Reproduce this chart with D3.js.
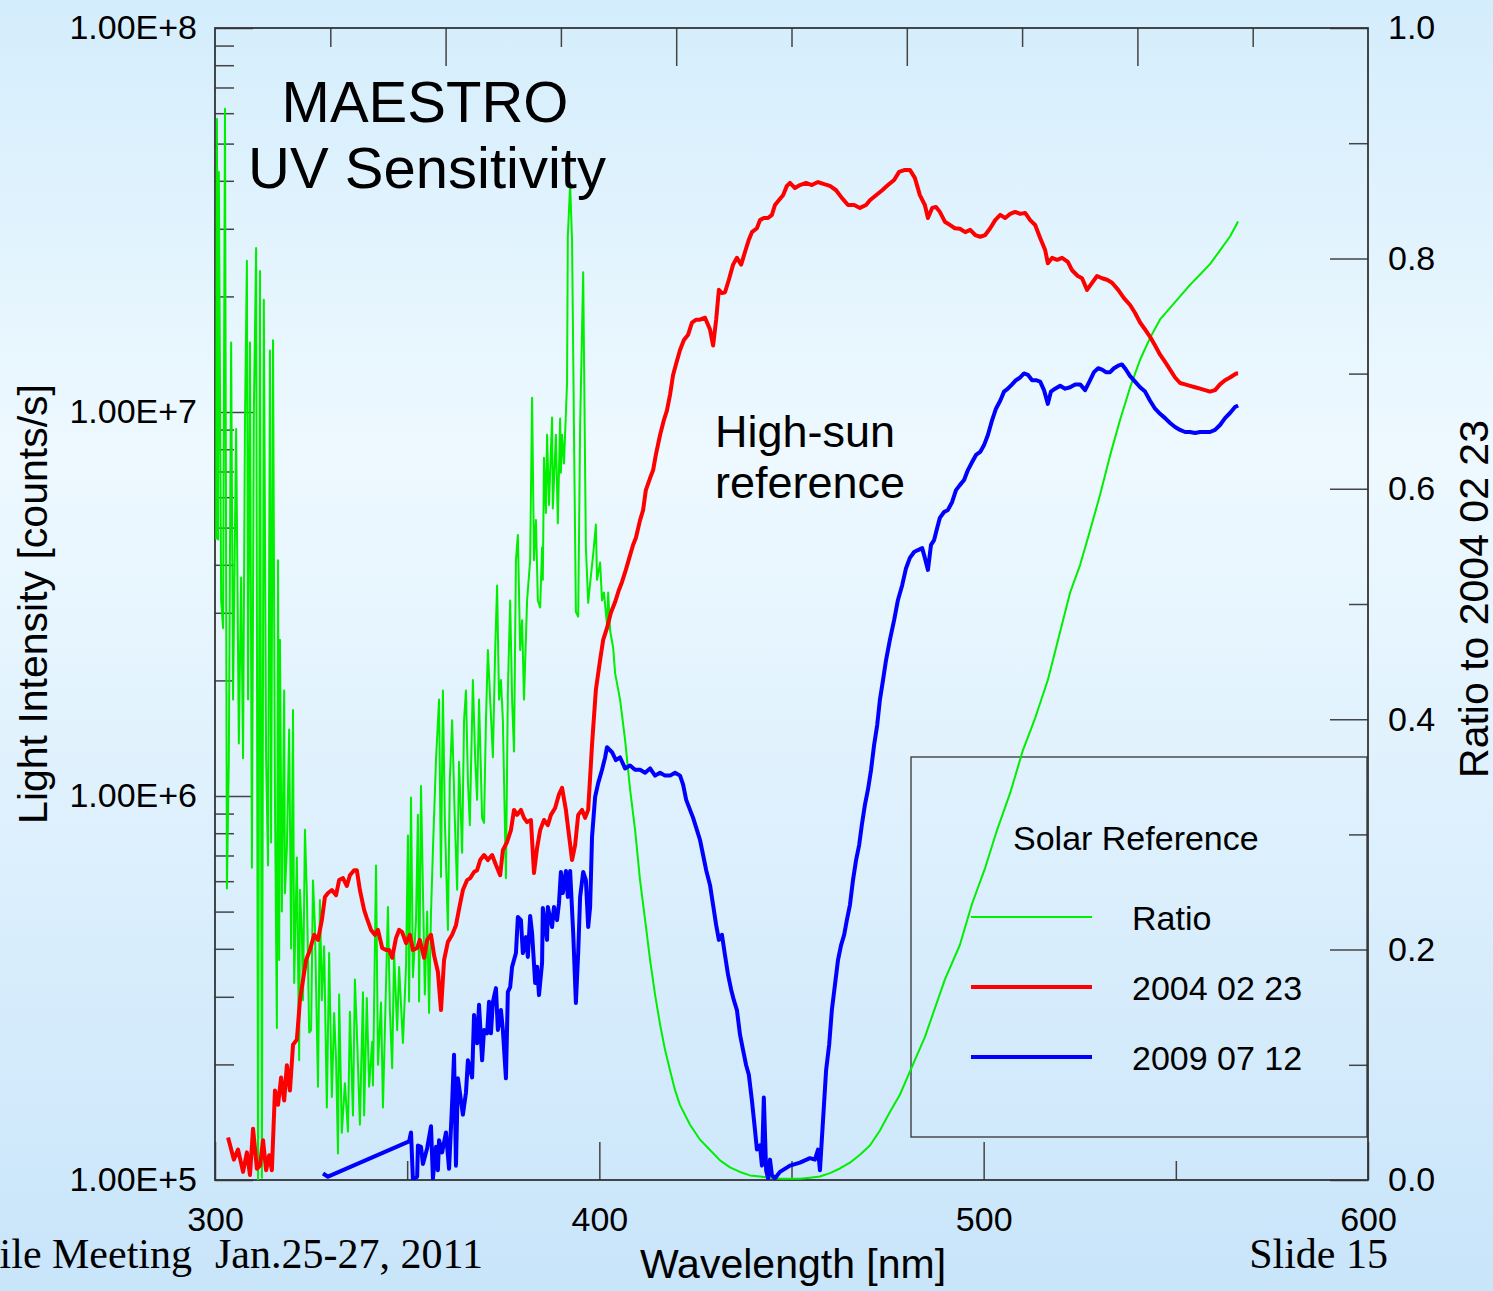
<!DOCTYPE html>
<html>
<head>
<meta charset="utf-8">
<script src="https://cdn.jsdelivr.net/npm/d3@7"></script>
<style>
  html, body { margin: 0; padding: 0; }
  body { width: 1493px; height: 1291px; overflow: hidden; }
  svg { display: block; font-family: "Liberation Sans", Arial, Helvetica, sans-serif; }
</style>
</head>
<body>
<div id="chart"></div>
<script>
// [wavelength nm, counts/s]
const ref2004 = [
  [303.4,1.29e5],[304.9,1.13e5],[306.0,1.20e5],[307.3,1.05e5],[308.3,1.18e5],[309.1,1.03e5],[309.9,1.36e5],
  [310.9,1.07e5],[311.7,1.09e5],[312.5,1.27e5],[313.3,1.06e5],[314.1,1.16e5],[314.8,1.06e5],[315.6,1.71e5],
  [316.4,1.57e5],[317.2,1.85e5],[318.0,1.61e5],[318.7,1.99e5],[319.5,1.71e5],[320.3,2.25e5],[321.3,2.32e5],
  [322.1,2.94e5],[322.9,3.32e5],[323.7,3.74e5],[324.7,3.97e5],[325.8,4.35e5],[326.8,4.22e5],[327.8,4.75e5],
  [328.6,5.46e5],[329.4,5.59e5],[330.4,5.69e5],[331.5,5.52e5],[332.3,6.04e5],[333.3,6.11e5],[334.3,5.83e5],
  [335.1,6.22e5],[336.2,6.41e5],[336.9,6.41e5],[337.7,5.69e5],[338.8,5.05e5],[339.5,4.81e5],[340.6,4.48e5],
  [341.6,4.35e5],[342.4,4.48e5],[343.5,4.02e5],[344.5,3.97e5],[345.3,3.97e5],[346.1,3.79e5],[347.1,4.27e5],
  [347.9,4.48e5],[348.7,4.42e5],[349.7,4.14e5],[350.7,4.35e5],[351.5,3.97e5],[352.6,4.02e5],[353.3,4.22e5],
  [354.4,3.79e5],[355.2,4.22e5],[356.2,4.35e5],[357.0,3.85e5],[358.0,3.48e5],[358.8,2.77e5],[359.6,3.74e5],
  [360.6,4.17e5],[361.7,4.35e5],[362.7,4.61e5],[363.7,5.20e5],[364.5,5.69e5],[365.6,6.04e5],[366.4,6.11e5],
  [367.4,6.34e5],[368.2,6.41e5],[369.0,6.81e5],[370.0,7.02e5],[371.0,6.81e5],[372.1,7.02e5],[373.1,6.61e5],
  [374.2,6.22e5],[374.9,7.23e5],[376.0,7.59e5],[377.0,8.15e5],[377.8,9.20e5],[378.6,8.93e5],[379.6,9.20e5],
  [380.4,8.77e5],[381.2,8.55e5],[382.2,8.66e5],[383.0,6.30e5],[383.8,7.32e5],[384.6,8.15e5],[385.6,8.66e5],
  [386.6,8.40e5],[387.4,8.93e5],[388.5,9.31e5],[389.5,1.01e6],[390.3,1.05e6],[391.3,9.20e5],[392.1,7.91e5],
  [392.9,6.81e5],[393.7,7.45e5],[394.5,8.93e5],[395.5,9.20e5],[396.3,8.77e5],[397.1,9.20e5],[398.1,1.36e6],
  [399.1,1.89e6],[400.2,2.26e6],[401.0,2.55e6],[402.0,2.74e6],[403.0,3.00e6],[404.1,3.20e6],[405.1,3.44e6],
  [405.9,3.61e6],[406.9,3.88e6],[408.0,4.24e6],[408.8,4.51e6],[409.5,4.70e6],[410.6,5.23e6],[411.4,5.56e6],
  [412.1,6.26e6],[413.2,6.73e6],[414.0,7.06e6],[414.7,7.73e6],[415.8,8.71e6],[416.8,9.53e6],[417.6,1.01e7],
  [418.4,1.11e7],[419.2,1.25e7],[420.2,1.36e7],[421.0,1.45e7],[422.0,1.54e7],[423.1,1.59e7],[424.1,1.71e7],
  [425.2,1.74e7],[426.2,1.74e7],[427.5,1.76e7],[428.8,1.64e7],[429.6,1.49e7],[430.4,1.74e7],[431.1,2.08e7],
  [431.9,2.04e7],[432.7,2.05e7],[433.7,2.21e7],[434.8,2.42e7],[435.8,2.52e7],[436.9,2.42e7],[437.9,2.61e7],
  [438.9,2.81e7],[439.7,2.94e7],[441.0,3.01e7],[441.8,3.16e7],[442.8,3.20e7],[443.9,3.20e7],[444.9,3.26e7],
  [445.7,3.46e7],[446.7,3.56e7],[447.8,3.67e7],[448.8,3.88e7],[449.6,3.95e7],[450.9,3.83e7],[452.2,3.90e7],
  [453.8,3.95e7],[455.3,3.90e7],[456.9,3.97e7],[458.5,3.92e7],[460.0,3.88e7],[461.6,3.78e7],[463.1,3.61e7],
  [464.7,3.46e7],[466.3,3.46e7],[467.8,3.40e7],[469.4,3.46e7],[470.4,3.56e7],[472.0,3.67e7],[473.6,3.78e7],
  [475.1,3.90e7],[476.7,4.02e7],[478.0,4.22e7],[479.5,4.27e7],[480.8,4.27e7],[482.1,4.07e7],[483.4,3.67e7],
  [484.7,3.46e7],[485.5,3.20e7],[486.6,3.40e7],[487.6,3.42e7],[488.6,3.32e7],[489.9,3.13e7],[491.2,3.07e7],
  [492.5,3.01e7],[493.8,3.00e7],[495.2,2.94e7],[496.5,2.98e7],[497.8,2.89e7],[499.1,2.86e7],[500.4,2.89e7],
  [501.7,3.01e7],[503.0,3.16e7],[504.3,3.26e7],[505.6,3.20e7],[506.9,3.28e7],[508.2,3.32e7],[509.5,3.28e7],
  [510.8,3.30e7],[512.1,3.16e7],[513.4,3.07e7],[514.7,2.84e7],[516.0,2.64e7],[516.7,2.44e7],[517.8,2.52e7],
  [519.1,2.49e7],[520.4,2.52e7],[521.9,2.46e7],[523.0,2.34e7],[524.5,2.26e7],[525.6,2.23e7],[526.9,2.08e7],
  [528.2,2.17e7],[529.5,2.26e7],[530.8,2.23e7],[532.1,2.21e7],[533.4,2.17e7],[535.0,2.08e7],[536.5,1.98e7],
  [538.1,1.90e7],[539.4,1.81e7],[540.7,1.71e7],[542.0,1.64e7],[543.3,1.57e7],[544.6,1.49e7],[545.9,1.41e7],
  [547.2,1.35e7],[548.5,1.29e7],[549.8,1.23e7],[551.1,1.19e7],[552.4,1.18e7],[553.7,1.17e7],[555.0,1.16e7],
  [556.3,1.15e7],[557.6,1.14e7],[558.9,1.13e7],[560.2,1.14e7],[561.5,1.18e7],[562.8,1.21e7],[564.1,1.23e7],
  [565.7,1.26e7],[566.2,1.26e7]
];

const obs2009 = [
  [328.1,1.04e5],[329.4,1.02e5],[350.5,1.26e5],[351.0,1.33e5],[351.5,1.00e5],[352.6,1.02e5],[352.8,1.23e5],
  [353.6,1.22e5],[354.1,1.10e5],[355.2,1.21e5],[356.2,1.38e5],[356.7,1.01e5],[357.5,1.22e5],[358.0,1.06e5],
  [358.3,1.27e5],[359.1,1.18e5],[360.1,1.33e5],[360.9,1.07e5],[361.7,1.59e5],[362.2,2.12e5],[362.7,1.09e5],
  [363.2,1.84e5],[364.0,1.61e5],[364.5,1.48e5],[365.3,1.69e5],[365.8,2.05e5],[366.9,1.85e5],[367.4,2.69e5],
  [368.2,2.27e5],[368.7,2.86e5],[369.5,2.05e5],[370.0,2.46e5],[370.8,2.41e5],[371.3,2.91e5],[371.8,2.41e5],
  [372.3,2.91e5],[373.1,3.16e5],[373.6,2.46e5],[374.4,2.77e5],[374.9,2.46e5],[375.7,1.84e5],[376.2,3.09e5],
  [376.8,3.18e5],[377.3,3.59e5],[378.3,3.90e5],[378.8,4.84e5],[379.6,4.75e5],[380.1,3.90e5],[380.9,4.29e5],
  [381.4,3.81e5],[382.0,4.87e5],[382.5,4.40e5],[383.3,3.26e5],[383.8,3.59e5],[384.3,3.03e5],[385.1,3.67e5],
  [385.3,5.11e5],[386.4,4.22e5],[386.6,5.14e5],[387.7,4.56e5],[388.2,5.14e5],[389.0,4.75e5],[389.5,5.26e5],
  [390.0,6.34e5],[390.5,5.59e5],[391.3,6.38e5],[391.8,5.46e5],[392.4,6.38e5],[393.2,4.40e5],[393.9,2.89e5],
  [394.5,3.90e5],[395.0,5.46e5],[395.8,6.34e5],[396.5,6.04e5],[397.1,4.56e5],[397.6,5.14e5],[398.1,7.82e5],
  [398.9,9.94e5],[399.7,1.08e6],[400.7,1.17e6],[401.5,1.26e6],[402.0,1.34e6],[403.3,1.30e6],[404.3,1.24e6],
  [405.4,1.26e6],[406.7,1.18e6],[408.0,1.20e6],[409.3,1.17e6],[410.6,1.17e6],[411.9,1.15e6],[413.2,1.18e6],
  [414.5,1.13e6],[415.8,1.15e6],[417.1,1.13e6],[418.4,1.13e6],[419.7,1.15e6],[421.0,1.13e6],[421.8,1.07e6],
  [422.6,9.77e5],[423.6,9.20e5],[424.4,8.77e5],[425.4,8.15e5],[426.2,7.68e5],[427.0,7.02e5],[427.8,6.41e5],
  [428.8,5.86e5],[429.6,5.20e5],[430.4,4.61e5],[431.1,4.22e5],[431.9,4.35e5],[432.7,3.85e5],[433.5,3.42e5],
  [434.3,3.13e5],[435.0,2.94e5],[435.8,2.77e5],[436.6,2.39e5],[437.4,2.18e5],[438.2,1.99e5],[438.9,1.88e5],
  [439.7,1.61e5],[440.5,1.35e5],[441.0,1.20e5],[441.8,1.23e5],[442.3,1.09e5],[442.8,1.64e5],[443.4,1.06e5],
  [443.9,1.01e5],[444.4,1.13e5],[444.9,1.03e5],[445.7,1.01e5],[447.0,1.05e5],[449.6,1.09e5],[452.2,1.11e5],
  [454.8,1.14e5],[456.1,1.13e5],[456.9,1.20e5],[457.4,1.06e5],[458.2,1.43e5],[459.0,1.93e5],[459.8,2.25e5],
  [460.5,2.77e5],[461.3,3.22e5],[462.1,3.74e5],[462.9,4.09e5],[463.7,4.35e5],[464.4,4.75e5],[465.2,5.20e5],
  [466.0,6.04e5],[466.8,6.81e5],[467.6,7.45e5],[468.3,8.40e5],[469.1,9.48e5],[469.9,1.04e6],[470.7,1.17e6],
  [471.5,1.36e6],[472.3,1.53e6],[473.0,1.78e6],[473.8,2.00e6],[474.6,2.26e6],[475.6,2.55e6],[476.7,2.87e6],
  [477.7,3.24e6],[478.8,3.54e6],[479.8,3.92e6],[480.8,4.17e6],[481.9,4.32e6],[482.9,4.37e6],[484.0,4.42e6],
  [484.7,4.17e6],[485.5,3.88e6],[486.3,4.51e6],[487.1,4.64e6],[487.9,4.99e6],[488.6,5.30e6],[489.7,5.49e6],
  [490.7,5.56e6],[491.8,5.83e6],[492.8,6.26e6],[493.8,6.45e6],[494.9,6.65e6],[495.9,7.06e6],[497.0,7.41e6],
  [498.0,7.73e6],[499.1,7.87e6],[500.1,8.20e6],[501.1,8.71e6],[502.2,9.53e6],[503.2,1.02e7],[504.3,1.07e7],
  [505.3,1.13e7],[506.3,1.15e7],[507.4,1.18e7],[508.4,1.21e7],[509.5,1.23e7],[510.5,1.26e7],[511.5,1.25e7],
  [512.6,1.21e7],[513.6,1.21e7],[514.7,1.20e7],[515.7,1.14e7],[516.7,1.05e7],[517.5,1.13e7],[518.6,1.15e7],
  [519.9,1.17e7],[521.2,1.15e7],[522.5,1.16e7],[523.8,1.18e7],[525.1,1.18e7],[526.4,1.14e7],[527.7,1.21e7],
  [528.7,1.27e7],[529.8,1.30e7],[530.8,1.29e7],[531.8,1.27e7],[532.9,1.27e7],[533.9,1.30e7],[535.0,1.32e7],
  [536.0,1.33e7],[537.0,1.29e7],[538.1,1.24e7],[539.4,1.20e7],[540.7,1.16e7],[542.0,1.13e7],[543.3,1.07e7],
  [544.6,1.02e7],[545.9,9.89e6],[547.2,9.64e6],[548.5,9.36e6],[549.8,9.14e6],[551.1,8.98e6],[552.4,8.87e6],
  [553.7,8.87e6],[555.0,8.82e6],[556.3,8.87e6],[557.6,8.87e6],[558.9,8.87e6],[560.2,8.98e6],[561.5,9.25e6],
  [562.8,9.64e6],[564.1,9.94e6],[565.4,1.03e7],[566.2,1.04e7]
];

// [wavelength nm, ratio 2009/2004] on the right axis
const ratio = [
  [300.3,0.556],[300.5,0.921],[300.8,0.556],[301.0,0.875],[301.6,0.503],[302.1,0.479],[302.6,0.930],[303.1,0.253],
  [303.6,0.365],[304.2,0.727],[304.7,0.417],[305.5,0.652],[306.2,0.379],[306.8,0.523],[307.3,0.366],[307.8,0.660],
  [308.3,0.798],[308.6,0.417],[309.1,0.727],[309.6,0.271],[310.1,0.666],[310.7,0.809],[311.2,0.0],[311.7,0.789],
  [312.2,0.002],[312.7,0.764],[313.3,0.365],[313.8,0.273],[314.3,0.720],[314.6,0.293],[315.1,0.729],[315.6,0.330],
  [316.1,0.132],[316.4,0.538],[316.7,0.191],[316.9,0.469],[317.4,0.233],[318.0,0.425],[318.2,0.249],[318.7,0.288],
  [319.3,0.391],[319.8,0.201],[320.3,0.408],[320.6,0.171],[321.3,0.280],[321.9,0.104],[322.1,0.252],[322.6,0.215],
  [322.9,0.156],[323.4,0.304],[323.9,0.249],[324.5,0.128],[325.0,0.130],[325.5,0.260],[326.0,0.220],[326.8,0.081],
  [327.3,0.243],[327.8,0.156],[328.4,0.203],[329.1,0.063],[329.7,0.197],[330.4,0.072],[331.0,0.145],[331.5,0.104],
  [332.0,0.023],[332.3,0.161],[333.0,0.041],[333.8,0.084],[334.6,0.042],[335.1,0.146],[335.9,0.056],[336.4,0.174],
  [336.9,0.130],[337.7,0.048],[338.5,0.163],[338.8,0.056],[339.5,0.158],[340.1,0.081],[340.9,0.120],[341.1,0.082],
  [341.9,0.273],[342.4,0.100],[343.2,0.154],[343.7,0.063],[344.2,0.130],[345.0,0.237],[345.5,0.148],[346.1,0.097],
  [346.6,0.197],[347.4,0.130],[347.9,0.185],[348.9,0.119],[349.7,0.185],[350.2,0.299],[350.5,0.155],[351.0,0.332],
  [351.5,0.176],[352.3,0.226],[352.8,0.317],[353.1,0.155],[353.6,0.342],[354.1,0.252],[354.6,0.161],[355.2,0.233],
  [355.7,0.145],[356.2,0.232],[356.7,0.286],[357.5,0.365],[358.3,0.417],[358.8,0.263],[359.3,0.425],[359.8,0.313],
  [360.4,0.241],[360.6,0.217],[361.1,0.347],[361.7,0.399],[362.4,0.313],[363.0,0.252],[363.5,0.363],[364.3,0.284],
  [364.8,0.399],[365.3,0.425],[365.8,0.347],[366.3,0.308],[367.1,0.434],[367.7,0.365],[368.2,0.330],[368.7,0.417],
  [369.5,0.314],[370.0,0.310],[370.5,0.399],[371.0,0.460],[371.6,0.417],[372.3,0.367],[372.9,0.460],[373.4,0.516],
  [373.9,0.417],[374.4,0.434],[374.9,0.399],[375.7,0.262],[376.2,0.425],[376.8,0.503],[377.3,0.417],[377.8,0.372],
  [378.3,0.538],[378.8,0.560],[379.4,0.460],[379.9,0.486],[380.4,0.417],[381.2,0.503],[382.0,0.538],[382.5,0.679],
  [383.0,0.538],[383.5,0.573],[384.0,0.503],[384.6,0.497],[385.1,0.549],[385.3,0.521],[385.6,0.627],[386.1,0.579],
  [386.4,0.647],[386.9,0.586],[387.7,0.662],[387.9,0.583],[388.7,0.647],[389.2,0.570],[389.8,0.661],[390.0,0.614],
  [390.3,0.647],[390.8,0.622],[391.6,0.692],[391.8,0.819],[392.4,0.864],[392.9,0.816],[393.4,0.651],[393.9,0.493],
  [394.5,0.489],[395.0,0.654],[395.8,0.788],[396.5,0.549],[397.1,0.501],[397.6,0.518],[398.4,0.543],[399.1,0.569],
  [399.4,0.521],[400.2,0.536],[400.7,0.503],[401.2,0.510],[402.0,0.482],[402.3,0.510],[402.8,0.477],[403.6,0.462],
  [404.1,0.440],[405.4,0.417],[406.7,0.382],[408.0,0.339],[409.3,0.304],[410.6,0.260],[411.9,0.226],[413.2,0.191],
  [414.5,0.161],[415.8,0.135],[417.1,0.113],[418.4,0.095],[419.7,0.078],[421.0,0.065],[423.6,0.048],[426.2,0.035],
  [428.8,0.026],[431.4,0.017],[434.0,0.011],[436.6,0.007],[439.2,0.004],[441.8,0.003],[444.4,0.002],[447.0,0.001],
  [449.6,0.001],[452.2,0.001],[454.8,0.002],[457.4,0.003],[460.0,0.006],[462.6,0.010],[465.2,0.015],[467.8,0.022],
  [470.4,0.030],[473.0,0.043],[475.6,0.059],[478.2,0.074],[480.8,0.094],[484.7,0.124],[489.9,0.174],[493.8,0.204],
  [497.0,0.240],[500.4,0.271],[503.5,0.304],[506.9,0.336],[510.2,0.373],[513.4,0.401],[516.7,0.434],[519.9,0.476],
  [522.5,0.510],[525.1,0.534],[527.7,0.564],[530.3,0.595],[532.9,0.629],[535.5,0.660],[538.1,0.688],[540.7,0.712],
  [543.3,0.731],[545.9,0.747],[548.5,0.757],[551.1,0.767],[553.7,0.777],[556.3,0.786],[558.9,0.795],[561.5,0.807],
  [564.1,0.819],[566.2,0.832]
];

const xMajor = [300, 400, 500, 600];
const xMinor = [350, 450, 550];
const topLong = [360, 420, 480, 540];
const topShort = [330, 390, 450, 510, 570];
const yMajor = [1e5, 1e6, 1e7, 1e8];
const rMajor = [0, 0.2, 0.4, 0.6, 0.8, 1.0];
const rMinor = [0.1, 0.3, 0.5, 0.7, 0.9];
const legendItems = [
  { label: "Ratio", color: "#00ee00", width: 2 },
  { label: "2004 02 23", color: "#ff0000", width: 4 },
  { label: "2009 07 12", color: "#0000ff", width: 4 }
];

const W = 1493, H = 1291;
const box = { left: 215, right: 1368, top: 28, bottom: 1180 };

const svg = d3.select("#chart").append("svg")
  .attr("width", W)
  .attr("height", H);

// slide background
const defs = svg.append("defs");
const grad = defs.append("linearGradient")
  .attr("id", "bg").attr("x1", 0).attr("y1", 0).attr("x2", 0).attr("y2", 1);
grad.append("stop").attr("offset", "0%").attr("stop-color", "#d4edfc");
grad.append("stop").attr("offset", "35%").attr("stop-color", "#eef9ff");
grad.append("stop").attr("offset", "100%").attr("stop-color", "#c9e5fa");
svg.append("rect").attr("width", W).attr("height", H).attr("fill", "url(#bg)");

defs.append("clipPath").attr("id", "plotclip")
  .append("rect").attr("x", box.left).attr("y", box.top)
  .attr("width", box.right - box.left).attr("height", box.bottom - box.top);

const x = d3.scaleLinear().domain([300, 600]).range([box.left, box.right]);
const y = d3.scaleLog().domain([1e5, 1e8]).range([box.bottom, box.top]);
const yR = d3.scaleLinear().domain([0, 1]).range([box.bottom, box.top]);

const minorLog = [];
for (let e = 5; e < 8; e++) {
  for (let m = 2; m <= 9; m++) minorLog.push(m * Math.pow(10, e));
}

function styleAxis(g) {
  g.select(".domain").remove();
  g.selectAll(".tick line").attr("stroke", "#444").attr("stroke-width", 1.5);
  g.selectAll("text").attr("fill", "#000").style("font-size", "34px");
}

// left log axis
svg.append("g").attr("transform", `translate(${box.left},0)`)
  .call(d3.axisLeft(y).tickValues(yMajor).tickSize(-38).tickPadding(18)
    .tickFormat(v => "1.00E+" + Math.round(Math.log10(v))))
  .call(styleAxis);
svg.append("g").attr("transform", `translate(${box.left},0)`)
  .call(d3.axisLeft(y).tickValues(minorLog).tickSize(-19).tickFormat(""))
  .call(styleAxis);

// right ratio axis
svg.append("g").attr("transform", `translate(${box.right},0)`)
  .call(d3.axisRight(yR).tickValues(rMajor).tickSize(-38).tickPadding(20).tickFormat(d3.format(".1f")))
  .call(styleAxis);
svg.append("g").attr("transform", `translate(${box.right},0)`)
  .call(d3.axisRight(yR).tickValues(rMinor).tickSize(-19).tickFormat(""))
  .call(styleAxis);

// bottom axis
svg.append("g").attr("transform", `translate(0,${box.bottom})`)
  .call(d3.axisBottom(x).tickValues(xMajor).tickSize(-38).tickPadding(27).tickFormat(d3.format("d")))
  .call(styleAxis);
svg.append("g").attr("transform", `translate(0,${box.bottom})`)
  .call(d3.axisBottom(x).tickValues(xMinor).tickSize(-19).tickFormat(""))
  .call(styleAxis);

// top ticks
svg.append("g").attr("transform", `translate(0,${box.top})`)
  .call(d3.axisTop(x).tickValues(topLong).tickSize(-38).tickFormat(""))
  .call(styleAxis);
svg.append("g").attr("transform", `translate(0,${box.top})`)
  .call(d3.axisTop(x).tickValues(topShort).tickSize(-19).tickFormat(""))
  .call(styleAxis);

// frame
svg.append("rect")
  .attr("x", box.left).attr("y", box.top)
  .attr("width", box.right - box.left).attr("height", box.bottom - box.top)
  .attr("fill", "none").attr("stroke", "#333").attr("stroke-width", 1.8);

// legend box
const lg = svg.append("g");
lg.append("rect").attr("x", 911).attr("y", 757).attr("width", 456).attr("height", 380)
  .attr("fill", "none").attr("stroke", "#333").attr("stroke-width", 1.3);
lg.append("text").attr("x", 1013).attr("y", 850).style("font-size", "34px").text("Solar Reference");
legendItems.forEach((d, i) => {
  const ly = 917 + i * 70;
  lg.append("line").attr("x1", 971).attr("x2", 1092).attr("y1", ly).attr("y2", ly)
    .attr("stroke", d.color).attr("stroke-width", d.width);
  lg.append("text").attr("x", 1132).attr("y", ly + 13).style("font-size", "34px").text(d.label);
});

// curves
const plot = svg.append("g").attr("clip-path", "url(#plotclip)");
const lineLog = d3.line().x(d => x(d[0])).y(d => y(d[1]));
const lineR = d3.line().x(d => x(d[0])).y(d => yR(d[1]));

plot.append("path").datum(ratio).attr("d", lineR)
  .attr("fill", "none").attr("stroke", "#00ee00").attr("stroke-width", 2).attr("stroke-linejoin", "round");
plot.append("path").datum(ref2004).attr("d", lineLog)
  .attr("fill", "none").attr("stroke", "#ff0000").attr("stroke-width", 4).attr("stroke-linejoin", "round");
plot.append("path").datum(obs2009).attr("d", lineLog)
  .attr("fill", "none").attr("stroke", "#0000ff").attr("stroke-width", 4).attr("stroke-linejoin", "round");

// titles and annotations
svg.append("text").attr("x", 425).attr("y", 122).attr("text-anchor", "middle")
  .style("font-size", "58px").text("MAESTRO");
svg.append("text").attr("x", 427).attr("y", 188).attr("text-anchor", "middle")
  .style("font-size", "58px").text("UV Sensitivity");
svg.append("text").attr("x", 715).attr("y", 447).style("font-size", "45px").text("High-sun");
svg.append("text").attr("x", 715).attr("y", 498).style("font-size", "45px").text("reference");

svg.append("text").attr("transform", "translate(47,604) rotate(-90)").attr("text-anchor", "middle")
  .style("font-size", "41px").text("Light Intensity [counts/s]");
svg.append("text").attr("transform", "translate(1488,599) rotate(-90)").attr("text-anchor", "middle")
  .style("font-size", "41px").text("Ratio to 2004 02 23");
svg.append("text").attr("x", 793).attr("y", 1278).attr("text-anchor", "middle")
  .style("font-size", "41px").text("Wavelength [nm]");

// slide footer
const footer = svg.append("g").style("font-family", "'Liberation Serif', 'Times New Roman', serif")
  .style("font-size", "42px");
footer.append("text").attr("x", 192).attr("y", 1268).attr("text-anchor", "end").text("ile Meeting");
footer.append("text").attr("x", 215).attr("y", 1268).text("Jan.25-27, 2011");
footer.append("text").attr("x", 1388).attr("y", 1268).attr("text-anchor", "end").text("Slide 15");
</script>
</body>
</html>
